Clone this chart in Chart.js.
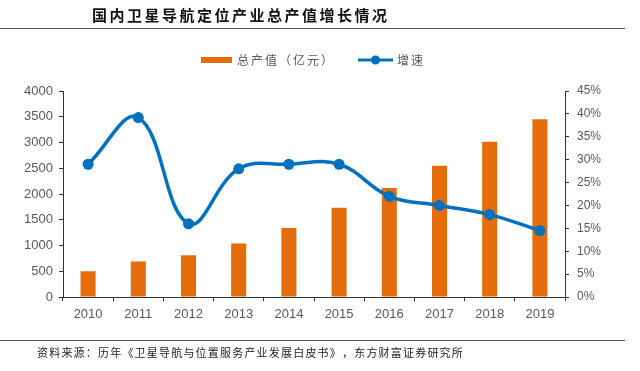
<!DOCTYPE html>
<html>
<head>
<meta charset="utf-8">
<script src="https://cdn.jsdelivr.net/npm/chart.js@4.4.1/dist/chart.umd.min.js"></script>
<style>
	html, body { margin: 0; padding: 0; background: #fff; }
	#wrap { width: 640px; height: 371px; position: relative; }
</style>
</head>
<body>
<div id="wrap"><canvas id="gnss-chart"></canvas></div>
<script>
	// Chart data
	const years = ['2010', '2011', '2012', '2013', '2014', '2015', '2016', '2017', '2018', '2019'];
	const outputValue = [500, 690, 810, 1040, 1340, 1735, 2118, 2550, 3016, 3450];   // 亿元
	const growthRate = [29, 39.2, 16, 28, 29, 29, 22, 20, 18, 14.5];                  // %

	const titleText = '国内卫星导航定位产业总产值增长情况';
	const sourceText = '资料来源：历年《卫星导航与位置服务产业发展白皮书》，东方财富证券研究所';
	const barLabel = '总产值（亿元）';
	const lineLabel = '增速';

	const BAR_COLOR = '#E46C0A';
	const LINE_COLOR = '#0070C0';
	const TEXT_GRAY = '#595959';
	const CJK = '"Noto Sans CJK SC", "Noto Sans", sans-serif';
	const LATIN = '"Liberation Sans", Arial, sans-serif';

	/**
	 * Draw text one glyph at a time so spacing can be matched
	 */
	function spacedText(ctx, text, x, y, spacing) {
		let cx = x;
		for (const ch of text) {
			ctx.fillText(ch, cx, y);
			cx += ctx.measureText(ch).width + spacing;
		}
		return cx;
	}

	// Title, rules, legend and source note
	const decorations = {
		id: 'decorations',
		afterDraw(chart) {
			const ctx = chart.ctx;
			ctx.save();
			ctx.textBaseline = 'middle';
			ctx.textAlign = 'left';

			// title
			ctx.fillStyle = '#111';
			ctx.font = 'bold 15px ' + CJK;
			spacedText(ctx, titleText, 92, 15, 2.5);

			// rules above and below
			ctx.strokeStyle = '#555';
			ctx.lineWidth = 1;
			ctx.beginPath();
			ctx.moveTo(0, 28.5);
			ctx.lineTo(625, 28.5);
			ctx.moveTo(0, 340.5);
			ctx.lineTo(625, 340.5);
			ctx.stroke();

			// legend
			ctx.fillStyle = BAR_COLOR;
			ctx.fillRect(201, 57, 31, 6);
			ctx.fillStyle = TEXT_GRAY;
			ctx.font = '12px ' + CJK;
			spacedText(ctx, barLabel, 237, 60, 2);

			ctx.strokeStyle = LINE_COLOR;
			ctx.lineWidth = 3;
			ctx.beginPath();
			ctx.moveTo(358, 60);
			ctx.lineTo(393, 60);
			ctx.stroke();
			ctx.fillStyle = LINE_COLOR;
			ctx.beginPath();
			ctx.arc(375.5, 60, 4.5, 0, Math.PI * 2);
			ctx.fill();
			ctx.fillStyle = TEXT_GRAY;
			spacedText(ctx, lineLabel, 397, 60, 2);

			// source note
			ctx.fillStyle = '#222';
			ctx.font = '11px ' + CJK;
			spacedText(ctx, sourceText, 37, 353, 1.2);

			ctx.restore();
		}
	};

	const canvas = document.getElementById('gnss-chart');

	new Chart(canvas, {
		type: 'bar',
		data: {
			labels: years,
			datasets: [
				{
					type: 'line',
					label: lineLabel,
					data: growthRate,
					yAxisID: 'y1',
					borderColor: LINE_COLOR,
					backgroundColor: LINE_COLOR,
					borderWidth: 3.5,
					pointRadius: 5.5,
					pointBorderWidth: 0,
					tension: 0.4,
					order: 0
				},
				{
					type: 'bar',
					label: barLabel,
					data: outputValue,
					yAxisID: 'y',
					backgroundColor: BAR_COLOR,
					categoryPercentage: 1,
					barPercentage: 0.3,
					order: 1
				}
			]
		},
		options: {
			responsive: true,
			maintainAspectRatio: false,
			animation: false,
			layout: {
				padding: { top: 91, bottom: 44, left: 0, right: 0 }
			},
			plugins: {
				legend: { display: false },
				tooltip: { enabled: false }
			},
			scales: {
				x: {
					offset: true,
					afterFit: scale => { scale.height = 30; },
					border: { color: '#333', width: 1 },
					grid: {
						offset: true,
						drawOnChartArea: false,
						tickLength: 4,
						color: '#333'
					},
					ticks: {
						color: TEXT_GRAY,
						padding: 6,
						font: { family: LATIN, size: 13 }
					}
				},
				y: {
					position: 'left',
					min: 0,
					max: 4000,
					afterFit: scale => { scale.width = 63; },
					border: { color: '#333', width: 1 },
					grid: {
						drawOnChartArea: false,
						tickLength: 4,
						color: '#333'
					},
					ticks: {
						stepSize: 500,
						color: TEXT_GRAY,
						padding: 6,
						font: { family: LATIN, size: 13 },
						callback: function(value) {
							return String(value);
						}
					}
				},
				y1: {
					position: 'right',
					min: 0,
					max: 45,
					afterFit: scale => { scale.width = 75; },
					border: { color: '#333', width: 1 },
					grid: {
						drawOnChartArea: false,
						tickLength: 4,
						color: '#333'
					},
					ticks: {
						stepSize: 5,
						color: TEXT_GRAY,
						padding: 8,
						font: { family: LATIN, size: 12 },
						callback: function(value) {
							return value + '%';
						}
					}
				}
			}
		},
		plugins: [decorations]
	});
</script>
</body>
</html>
